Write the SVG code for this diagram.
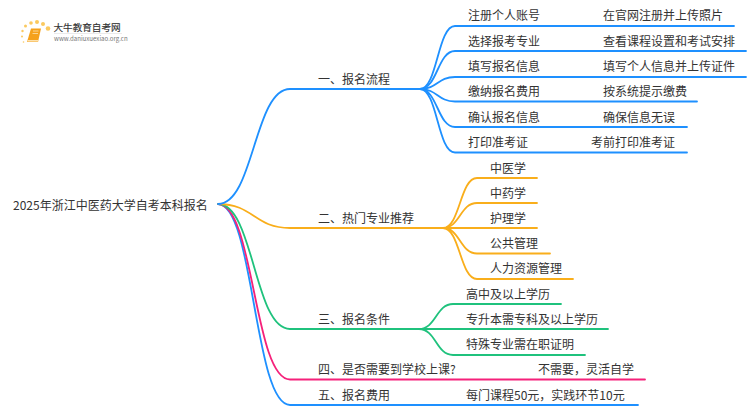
<svg xmlns="http://www.w3.org/2000/svg" width="750" height="410" viewBox="0 0 750 410">
<style>
text{font-family:"Noto Sans CJK SC","Noto Sans",sans-serif;font-size:12px;fill:#333}
.c{fill:none;stroke-width:1.8;stroke-linecap:round}
.b{stroke:#1e90ff}.o{stroke:#f9ae1b}.g{stroke:#1fc27d}.p{stroke:#f5217a}
</style>
<rect width="750" height="410" fill="#fff"/>
<g id="logo">
<g fill="#fbc95f"><circle cx="48" cy="28.500" r="2.300"/><circle cx="43" cy="24" r="2"/><circle cx="37" cy="22" r="2"/><circle cx="31" cy="23" r="1.800"/><circle cx="25.500" cy="26" r="1.500"/><circle cx="22.500" cy="31" r="1.200"/><circle cx="22" cy="36.500" r="1"/><circle cx="23.500" cy="42" r="0.800"/></g>
<path d="M31 28.500h10l-3 13.500h-11z" fill="#f5a11c"/><path d="M27.500 40h10.500v1.600h-10.500z" fill="#fde2ae"/><path d="M33 31h5.500M32.500 33.500h5.500" stroke="#fde2ae" stroke-width="0.800"/>
<text x="53.500" y="30.500" style="font-size:9.600px;fill:#333;stroke:#333;stroke-width:.15">大牛教育自考网</text>
<path d="M54 33.500h68" stroke="#ddd" stroke-width="0.600"/>
<text x="54" y="40.500" style="font-size:6.100px;fill:#777">www.daniuxuexiao.org.cn</text>
</g>
<g id="connectors">
<path class="c b" d="M218 204C254 204 254 405 290 405H638"/>
<path class="c p" d="M218 204C254 204 254 379.500 290 379.500H645"/>
<path class="c g" d="M218 204C254 204 254 329 290 329H419"/>
<path class="c o" d="M218 204C254 204 254 228 290 228H443"/>
<path class="c b" d="M218 204C254 204 254 89 290 89H420"/>
<path class="c b" d="M420 89C437.500 89 437.500 26 455 26H734"/>
<path class="c b" d="M420 89C437.500 89 437.500 51 455 51H746"/>
<path class="c b" d="M420 89C437.500 89 437.500 77 455 77H746"/>
<path class="c b" d="M420 89C437.500 89 437.500 101.500 455 101.500H697"/>
<path class="c b" d="M420 89C437.500 89 437.500 127 455 127H687"/>
<path class="c b" d="M420 89C437.500 89 437.500 152.500 455 152.500H687"/>
<path class="c o" d="M443 228C460 228 460 178 477 178H537"/>
<path class="c o" d="M443 228C460 228 460 203 477 203H537"/>
<path class="c o" d="M443 228H537"/>
<path class="c o" d="M443 228C460 228 460 253.500 477 253.500H550"/>
<path class="c o" d="M443 228C460 228 460 279 477 279H573"/>
<path class="c g" d="M419 329C436 329 436 304 453 304H561"/>
<path class="c g" d="M419 329H608"/>
<path class="c g" d="M419 329C436 329 436 355 453 355H585"/>
</g>
<g id="root"><text x="13" y="210">2025年浙江中医药大学自考本科报名</text></g>
<g id="n1"><text x="318" y="84">一、报名流程</text></g>
<g id="n1-1"><text x="468" y="20">注册个人账号</text><text x="603" y="20">在官网注册并上传照片</text></g>
<g id="n1-2"><text x="468" y="46">选择报考专业</text><text x="603" y="46">查看课程设置和考试安排</text></g>
<g id="n1-3"><text x="468" y="71">填写报名信息</text><text x="603" y="71">填写个人信息并上传证件</text></g>
<g id="n1-4"><text x="468" y="96">缴纳报名费用</text><text x="603" y="96">按系统提示缴费</text></g>
<g id="n1-5"><text x="468" y="122">确认报名信息</text><text x="603" y="122">确保信息无误</text></g>
<g id="n1-6"><text x="468" y="147">打印准考证</text><text x="591" y="147">考前打印准考证</text></g>
<g id="n2"><text x="318" y="223">二、热门专业推荐</text></g>
<g id="n2-1"><text x="490" y="172.500">中医学</text></g>
<g id="n2-2"><text x="490" y="197.500">中药学</text></g>
<g id="n2-3"><text x="490" y="223">护理学</text></g>
<g id="n2-4"><text x="490" y="248">公共管理</text></g>
<g id="n2-5"><text x="490" y="273">人力资源管理</text></g>
<g id="n3"><text x="318" y="324">三、报名条件</text></g>
<g id="n3-1"><text x="466" y="299">高中及以上学历</text></g>
<g id="n3-2"><text x="466" y="324">专升本需专科及以上学历</text></g>
<g id="n3-3"><text x="466" y="349">特殊专业需在职证明</text></g>
<g id="n4"><text x="318" y="374">四、是否需要到学校上课?</text><text x="538" y="374">不需要，灵活自学</text></g>
<g id="n5"><text x="318" y="400">五、报名费用</text><text x="466" y="400">每门课程50元，实践环节10元</text></g>
</svg>
